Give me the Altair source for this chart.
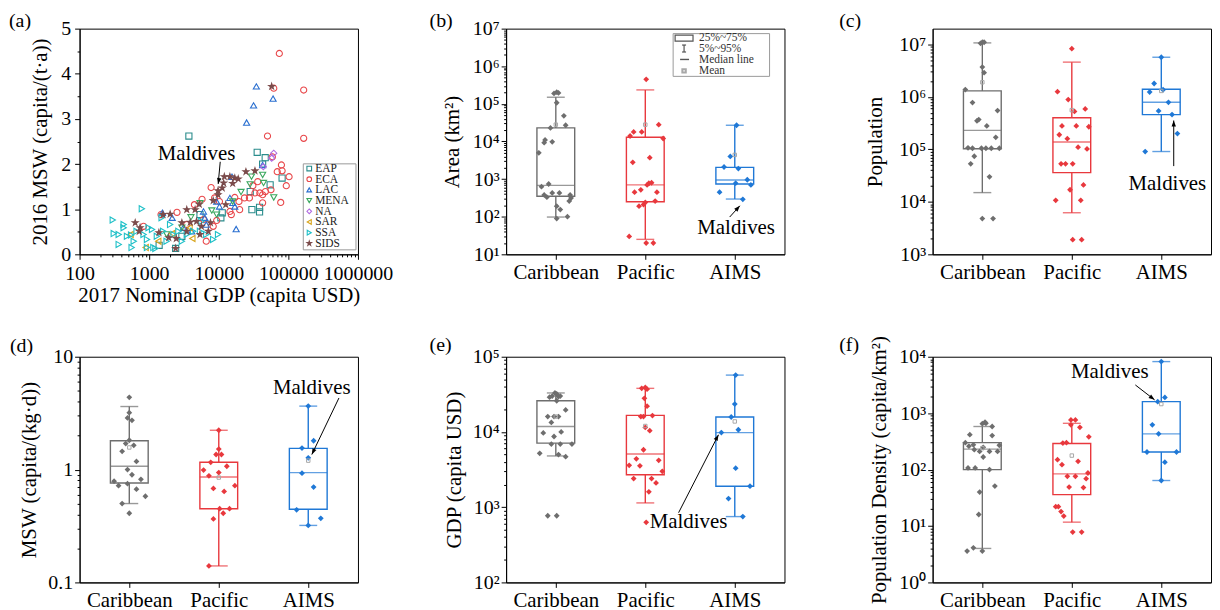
import altair as alt
import pandas as pd

FONT = "Liberation Serif"
W, H = 280, 227
CATS = ["Caribbean", "Pacific", "AIMS"]
CAT_POS = [1, 2, 3]
CAT_COLORS = ["#6e6e6e", "#e8383d", "#1f78d6"]
MEAN_COLOR = "#a8a8a8"
SUP = "⁰¹²³⁴⁵⁶⁷⁸⁹"
POW10 = "abs(log(datum.value)/LN10 - round(log(datum.value)/LN10)) < 0.000001"

# ---------------- panel (a) -----------------
REGIONS = ["EAP", "ECA", "LAC", "MENA", "NA", "SAR", "SSA", "SIDS"]
REGION_COLORS = ["#2a8c8c", "#e8474a", "#2a6fd0", "#3aa85e", "#b06ae0", "#d8a41a", "#1fc0c8", "#7b4b4b"]
STAR = "M0,-1L0.2245,-0.309L0.951,-0.309L0.363,0.118L0.588,0.809L0,0.382L-0.588,0.809L-0.363,0.118L-0.951,-0.309L-0.2245,-0.309Z"
REGION_SHAPES = ["square", "circle", "triangle-up", "triangle-down", "diamond", "triangle-left", "triangle-right", STAR]
REGION_FILLS = ["transparent"] * 7 + ["#7b4b4b"]

EAP_GDP = [3720, 35650, 46450, 42660, 54700, 81280, 28310, 29920, 38550, 38550, 11220, 2950, 1390, 2400, 10720, 5370]
EAP_MSW = [2.62, 2.26, 2.14, 2.00, 1.54, 1.69, 1.39, 0.99, 1.04, 0.94, 0.92, 0.40, 0.20, 0.13, 0.81, 0.88]
ECA_GDP = [74130, 61660, 165960, 165960, 50120, 58880, 79430, 81280, 102330, 69180, 93330, 56230, 42660, 46770,
           38900, 33110, 27540, 23440, 16980, 19500, 19950, 14450, 15140, 77620, 42660, 7760, 5750, 4470, 2510,
           1480, 830, 6610, 9330, 10230, 8710, 6030, 8320, 3470, 36310, 30900]
ECA_MSW = [4.45, 3.68, 3.64, 2.57, 2.62, 2.16, 1.98, 1.85, 1.72, 1.83, 1.52, 1.43, 1.32, 1.39,
           1.36, 1.36, 1.25, 1.25, 1.26, 1.17, 0.99, 0.95, 0.88, 1.15, 1.14, 1.48, 1.22, 1.10, 0.93,
           0.88, 0.62, 0.29, 0.75, 1.17, 1.25, 0.77, 0.62, 0.66, 1.61, 1.52]
LAC_GDP = [34670, 31620, 60260, 25120, 42660, 15490, 17780, 1550, 2140, 3090, 4070, 6030, 6310, 9330, 10230,
           14450, 15850, 16980, 6610]
LAC_MSW = [3.72, 3.30, 3.45, 2.92, 1.98, 1.72, 0.56, 0.92, 0.81, 0.59, 0.51, 0.95, 0.81, 1.17, 1.06,
           1.25, 1.14, 1.06, 0.66]
MENA_GDP = [3980, 7940, 15850, 20890, 29510, 28180, 42660, 44000, 61660, 2950, 9330, 1780, 5370]
MENA_MSW = [0.82, 0.97, 1.17, 1.38, 1.72, 1.55, 1.76, 1.58, 1.26, 0.59, 0.88, 0.44, 1.13]
NA_GDP = [61660, 57540, 43650]
NA_MSW = [2.24, 2.13, 1.94]
SAR_GDP = [540, 890, 2140, 4170, 3800, 1350]
SAR_MSW = [0.44, 0.15, 0.46, 0.35, 0.59, 0.29]
SSA_GDP = [300, 310, 365, 430, 430, 550, 600, 785, 660, 930, 1100, 1150, 1290, 1510, 1590, 1780, 2000, 2240,
           2950, 3470, 4270, 5620, 6610, 8320, 9770, 5370, 365, 480, 830, 980, 560, 2630, 930, 1230]
SSA_MSW = [0.76, 0.46, 0.22, 0.59, 0.66, 0.43, 0.29, 1.01, 0.51, 0.33, 0.55, 0.15, 0.40, 0.81, 0.51, 0.29, 0.66, 0.44,
           0.29, 0.44, 0.51, 0.73, 0.44, 0.33, 0.44, 0.51, 0.44, 0.40, 0.44, 0.59, 0.15, 0.51, 0.15, 0.13]
SIDS_GDP = [57540, 33110, 24550, 14450, 16980, 12020, 11750, 11220, 9770, 9770, 8320, 5250, 4570, 3470, 1580,
            2000, 2950, 3890, 4790, 630, 740, 720, 1380, 1910, 2450, 2400, 3470, 5370, 7080, 7590, 5620, 12590,
            15850, 19050]
SIDS_MSW = [3.72, 1.85, 1.83, 1.72, 1.69, 1.72, 1.58, 1.47, 1.41, 1.32, 1.19, 1.11, 0.99, 0.99, 0.88,
            0.89, 0.70, 0.71, 0.73, 0.70, 0.59, 0.51, 0.48, 0.37, 0.35, 0.13, 0.51, 0.44, 0.51, 0.70, 0.62, 1.10,
            1.57, 1.67]
A_SERIES = [(EAP_GDP, EAP_MSW), (ECA_GDP, ECA_MSW), (LAC_GDP, LAC_MSW), (MENA_GDP, MENA_MSW),
            (NA_GDP, NA_MSW), (SAR_GDP, SAR_MSW), (SSA_GDP, SSA_MSW), (SIDS_GDP, SIDS_MSW)]

# ---------------- panels (b)-(f): points (x position within category, value) ----------------
B_POS = [[0.98, 1.01, 1.03, 1.01, 1.09, 0.94, 1.11, 0.87, 0.88, 0.96, 0.81, 0.84, 0.92, 0.87, 0.90, 0.96, 1.04, 1.16, 1.17, 1.15, 1.01, 1.05, 1.01, 1.13],
         [2.01, 2.15, 1.87, 1.96, 1.83, 2.20, 2.05, 1.86, 2.04, 2.07, 2.02, 1.95, 1.88, 2.13, 2.00, 2.11, 1.93, 1.98, 1.82, 2.01, 2.09],
         [3.02, 2.95, 2.88, 3.04, 3.14, 3.01, 3.18, 2.83, 3.09]]
B_VAL = [[1.9e5, 2.05e5, 1.95e5, 1.07e5, 4.8e4, 2.3e4, 2.7e4, 9.3e3, 1.1e4, 9.8e3, 5.0e3, 630, 740, 380, 330, 430, 430, 380, 314, 260, 190, 155, 89, 100],
         [4.5e5, 2.8e4, 1.8e4, 1.8e4, 1.4e4, 1.2e4, 3.7e3, 2.8e3, 775, 800, 700, 520, 450, 450, 240, 260, 190, 210, 30, 20, 20],
         [2.7e4, 4.0e3, 2.1e3, 1.9e3, 960, 780, 700, 450, 290]]
C_POS = [[1.00, 1.02, 0.98, 1.00, 1.02, 0.81, 0.89, 1.17, 0.96, 0.94, 1.05, 1.15, 0.84, 0.89, 0.99, 1.04, 1.10, 1.19, 0.91, 0.87, 1.08, 1.00, 1.12],
         [2.00, 1.84, 1.96, 2.03, 2.15, 1.89, 2.05, 2.19, 1.86, 1.95, 2.07, 2.17, 1.88, 1.93, 2.01, 2.13, 1.98, 1.82, 2.10, 2.01, 2.11],
         [3.00, 2.92, 2.87, 3.02, 3.08, 2.97, 3.12, 3.18, 2.82]]
C_VAL = [[1.1e7, 1.1e7, 1.05e7, 3.7e6, 2.9e6, 1.38e6, 7.8e5, 5.5e5, 3.7e5, 3.5e5, 2.8e5, 1.7e5, 1.07e5, 1.05e5, 1.05e5, 1.05e5, 1.05e5, 1.05e5, 7.4e4, 5.3e4, 3.0e4, 4.8e3, 4.8e3],
         [8.3e6, 1.26e6, 8.9e5, 5.3e5, 5.9e5, 2.8e5, 2.8e5, 2.7e5, 1.9e5, 1.6e5, 1.1e5, 1.02e5, 5.3e4, 5.3e4, 5.3e4, 2.1e4, 1.7e4, 1.07e4, 1.07e4, 1.9e3, 1.9e3],
         [5.7e6, 1.8e6, 1.24e6, 1.37e6, 7.9e5, 5.4e5, 4.6e5, 2.0e5, 9.1e4]]
D_POS = [[1.00, 1.00, 0.98, 1.03, 1.00, 0.96, 1.05, 0.92, 1.08, 0.98, 1.03, 1.13, 0.83, 0.98, 0.88, 1.08, 1.18, 0.92, 1.00],
         [2.00, 2.00, 1.97, 2.03, 1.91, 2.09, 1.83, 2.00, 1.89, 2.18, 1.94, 2.06, 2.01, 2.12, 2.05, 1.94, 1.89],
         [3.00, 3.06, 2.93, 3.00, 2.93, 3.06, 2.87, 3.14, 3.00]]
D_VAL = [[4.37, 3.19, 2.87, 2.73, 1.82, 1.70, 1.64, 1.45, 1.18, 1.00, 0.90, 0.82, 0.79, 0.75, 0.72, 0.67, 0.58, 0.50, 0.41],
         [2.23, 1.52, 1.36, 1.36, 1.16, 1.07, 0.99, 0.94, 0.88, 0.72, 0.68, 0.64, 0.45, 0.45, 0.41, 0.365, 0.14],
         [3.65, 1.80, 1.55, 1.27, 0.93, 0.70, 0.44, 0.37, 0.32]]
E_POS = [[0.99, 1.01, 0.96, 1.05, 0.93, 1.03, 1.01, 1.11, 0.91, 0.98, 1.03, 0.95, 0.86, 1.06, 0.98, 0.95, 1.05, 1.18, 0.82, 1.03, 1.11, 0.91, 1.01],
         [2.00, 1.96, 2.02, 1.99, 2.02, 1.95, 1.98, 2.08, 2.00, 2.05, 1.98, 1.90, 2.15, 1.82, 1.94, 2.19, 1.87, 2.07, 2.12, 2.04, 2.01],
         [3.01, 3.00, 2.96, 3.04, 2.85, 3.01, 3.17, 2.93, 3.09]]
E_VAL = [[3.3e4, 3.2e4, 3.0e4, 3.0e4, 2.9e4, 2.95e4, 2.6e4, 1.96e4, 1.6e4, 1.6e4, 1.6e4, 1.34e4, 9.7e3, 1.0e4, 8.7e3, 6.9e3, 6.9e3, 6.9e3, 5.2e3, 5.0e3, 4.7e3, 770, 770],
         [3.9e4, 3.8e4, 3.7e4, 2.8e4, 2.2e4, 1.6e4, 1.6e4, 1.65e4, 1.15e4, 1.04e4, 5.8e3, 4.4e3, 4.2e3, 3.6e3, 3.55e3, 3.0e3, 2.4e3, 2.4e3, 2.1e3, 1.6e3, 630],
         [5.7e4, 2.35e4, 1.58e4, 1.07e4, 9.8e3, 3.3e3, 1.9e3, 1.3e3, 750]]
F_POS = [[1.03, 1.04, 1.00, 1.11, 0.86, 1.11, 0.81, 0.90, 1.19, 0.85, 1.01, 0.91, 1.08, 0.97, 1.17, 1.01, 0.84, 0.92, 1.08, 1.14, 0.97, 0.96, 0.90, 0.83, 1.00],
         [1.99, 2.04, 1.99, 2.09, 2.19, 1.94, 1.90, 1.84, 1.89, 2.07, 1.95, 2.04, 2.16, 2.18, 1.97, 2.13, 1.82, 1.85, 1.88, 1.91, 2.01, 2.11],
         [3.00, 3.04, 2.96, 2.90, 2.97, 2.84, 3.17, 3.04, 3.00]]
F_VAL = [[690, 660, 650, 580, 415, 400, 300, 275, 270, 260, 248, 225, 210, 210, 210, 167, 107, 107, 100, 51, 40, 16, 4.1, 3.6, 3.6],
         [760, 760, 620, 560, 380, 300, 295, 150, 122, 140, 76, 76, 69, 87, 49, 48, 22, 22, 18, 15, 7.8, 7.8],
         [8.2e3, 1.9e3, 1.6e3, 620, 430, 205, 205, 135, 64]]

# box statistics [Caribbean, Pacific, AIMS]: q1, median, q3, p5, p95, mean
B_STATS = dict(q1=[350, 250, 740], med=[680, 700, 950], q3=[2.3e4, 1.3e4, 2.05e3], lo=[98, 25, 295], hi=[1.5e5, 2.35e5, 2.7e4], mean=[2.8e4, 2.8e4, 4.4e3])
C_STATS = dict(q1=[1.03e5, 3.6e4, 4.6e5], med=[2.3e5, 1.38e5, 7.9e5], q3=[1.3e6, 4.0e5, 1.4e6], lo=[1.5e4, 6.2e3, 9.1e4], hi=[1.07e7, 4.6e6, 5.7e6], mean=[1.9e6, 5.6e5, 1.3e6])
D_STATS = dict(q1=[0.76, 0.45, 0.445], med=[1.07, 0.86, 0.94], q3=[1.80, 1.16, 1.54], lo=[0.50, 0.14, 0.32], hi=[3.62, 2.23, 3.65], mean=[1.57, 0.85, 1.2])
E_STATS = dict(q1=[7.1e3, 2.7e3, 1.9e3], med=[1.18e4, 5.1e3, 9.8e3], q3=[2.6e4, 1.66e4, 1.58e4], lo=[4.8e3, 1.14e3, 750], hi=[3.3e4, 3.8e4, 5.7e4], mean=[1.6e4, 1.2e4, 1.38e4])
F_STATS = dict(q1=[100, 36, 205], med=[230, 84, 430], q3=[300, 290, 1.6e3], lo=[4.0, 11.7, 64], hi=[580, 660, 8.2e3], mean=[240, 177, 1.45e3])

# "Maldives" annotations: (label x, label y, align), arrow (x1, y1, x2, y2, head angle)
A_NOTE = (4800, 2.23, "center"); A_ARROW = (10500, 2.05, 9800, 1.56, 190)
B_NOTE = (3.015, 50, "center"); B_ARROW = (2.943, 98, 3.057, 195, 42)
C_NOTE = (3.068, 22200, "center"); C_ARROW = (3.139, 48000, 3.139, 3.55e5, 0)
D_NOTE = (3.04, 5.28, "center"); D_ARROW = (3.343, 4.31, 3.04, 1.36, 206)
E_NOTE = (2.05, 635, "left"); E_ARROW = (2.372, 844, 2.818, 9180, 28)
F_NOTE = (2.425, 5430, "center"); F_ARROW = (2.71, 3160, 2.925, 1720, 127)
NOTE_TEXT = "Maldives"
LEGEND_B = ["25%~75%", "5%~95%", "Median line", "Mean"]
ARROWHEAD = "M0,0L-0.42,1.15L0.42,1.15Z"


def log_ticks(lo, hi):
    return [m * 10.0 ** e for e in range(lo, hi) for m in range(1, 10)] + [10.0 ** hi]


def tick_cond(test):
    return {"condition": {"test": test, "value": 5}, "value": 2.5}


def letter_layer(txt, dx, dy):
    return alt.Chart(pd.DataFrame({"t": [txt]})).mark_text(
        align="left", baseline="middle", fontSize=20, font=FONT, color="black"
    ).encode(x=alt.value(dx), y=alt.value(dy), text="t:N")


def annotation_layers(xenc, yenc, note, arrow):
    nx, ny, nal = note
    x1, y1, x2, y2, ang = arrow
    t = alt.Chart(pd.DataFrame({"x": [nx], "y": [ny], "t": [NOTE_TEXT]})).mark_text(
        align=nal, baseline="middle", fontSize=21, font=FONT, color="black"
    ).encode(x=xenc("x"), y=yenc("y"), text="t:N")
    r = alt.Chart(pd.DataFrame({"x1": [x1], "y1": [y1], "x2": [x2], "y2": [y2]})).mark_rule(
        color="black", strokeWidth=1
    ).encode(x=xenc("x1"), y=yenc("y1"), x2="x2:Q", y2="y2:Q")
    h = alt.Chart(pd.DataFrame({"x2": [x2], "y2": [y2]})).mark_point(
        shape=ARROWHEAD, filled=True, color="black", size=110, angle=ang, opacity=1
    ).encode(x=xenc("x2"), y=yenc("y2"))
    return [r, h, t]


# ---------- panel (a) chart ----------
rows = []
for reg, (gx, my) in zip(REGIONS, A_SERIES):
    for g, m in zip(gx, my):
        rows.append({"region": reg, "gdp": g, "msw": m})
dfa = pd.DataFrame(rows)

a_xaxis = alt.Axis(values=log_ticks(2, 6), labelExpr=f"({POW10}) ? format(datum.value, 'd') : ''",
                   tickSize=tick_cond(POW10), labelOverlap=False, labelFlush=False,
                   title="2017 Nominal GDP (capita USD)", labelPadding=4, titlePadding=1)
a_yaxis = alt.Axis(values=[i / 2 for i in range(11)], labelExpr="datum.value % 1 == 0 ? format(datum.value, 'd') : ''",
                   tickSize=tick_cond("datum.value % 1 == 0"), labelOverlap=False,
                   title="2016 MSW (capita/(t·a))", titleX=-39, titleY=H / 2, titleAngle=270,
                   titleBaseline="middle", titleAlign="center", labelPadding=4)


def a_x(f):
    return alt.X(f"{f}:Q", scale=alt.Scale(type="log", domain=[100, 1e6], nice=False), axis=a_xaxis)


def a_y(f):
    return alt.Y(f"{f}:Q", scale=alt.Scale(domain=[0, 5], nice=False, zero=False), axis=a_yaxis)


reg_stroke = alt.Stroke("region:N", scale=alt.Scale(domain=REGIONS, range=REGION_COLORS), legend=None)
reg_shape = alt.Shape("region:N", scale=alt.Scale(domain=REGIONS, range=REGION_SHAPES), legend=None)
reg_fill = alt.Fill("region:N", scale=alt.Scale(domain=REGIONS, range=REGION_FILLS), legend=None)
pts_a = alt.Chart(dfa).mark_point(size=38, strokeWidth=1.1, opacity=1).encode(
    x=a_x("gdp"), y=a_y("msw"), stroke=reg_stroke, shape=reg_shape, fill=reg_fill)

# hand-built legend box inside panel (a)
legend_a = [alt.Chart(pd.DataFrame({"t": [""]})).mark_rect(fill="white", stroke="#999999", strokeWidth=1).encode(
    x=alt.value(225), x2=alt.value(278), y=alt.value(136), y2=alt.value(222.5))]
for i, (reg, colr, shp, fil) in enumerate(zip(REGIONS, REGION_COLORS, REGION_SHAPES, REGION_FILLS)):
    yy = 140.7 + i * 10.75
    legend_a.append(alt.Chart(pd.DataFrame({"t": [reg]})).mark_point(
        shape=shp, size=22, stroke=colr, fill=fil, strokeWidth=1.1, opacity=1
    ).encode(x=alt.value(231), y=alt.value(yy)))
    legend_a.append(alt.Chart(pd.DataFrame({"t": [reg]})).mark_text(
        align="left", baseline="middle", fontSize=11.5, font=FONT, color="#222222"
    ).encode(x=alt.value(237), y=alt.value(yy + 0.5), text="t:N"))

panel_a = alt.layer(pts_a, *legend_a, *annotation_layers(a_x, a_y, A_NOTE, A_ARROW),
                    letter_layer("(a)", -71, -8)).properties(width=W, height=H)

# ---------- box panels ----------
CAT_EXPR = " : ".join(f"datum.value == {p} ? '{c}'" for p, c in zip(CAT_POS[:-1], CATS[:-1])) + f" : '{CATS[-1]}'"
SUP_EXPR = (f"({POW10}) ? '10' + substring('{SUP}', round(log(datum.value)/LN10), "
            f"round(log(datum.value)/LN10) + 1) : ''")
PLAIN_EXPR = f"({POW10}) ? format(datum.value, '~g') : ''"


def box_panel(P, V, S, domain, ticks, ytitle, label_expr, letter, lx, ly, title_x, note, arrow, legend=False):
    pts = pd.DataFrame([{"cat": c, "pos": p, "v": v} for c, PP, VV in zip(CATS, P, V) for p, v in zip(PP, VV)])
    st = pd.DataFrame({"cat": CATS, "pos": CAT_POS, **S})
    xaxis = alt.Axis(values=CAT_POS, labelExpr=CAT_EXPR, title=None, tickSize=5, labelPadding=2,
                     labelFontSize=21)
    yaxis = alt.Axis(values=ticks, labelExpr=label_expr, tickSize=tick_cond(POW10), labelOverlap=False,
                     title=ytitle, titleX=title_x, titleY=H / 2, titleAngle=270, titleBaseline="middle",
                     titleAlign="center", labelPadding=2)

    def xe(f):
        return alt.X(f"{f}:Q", scale=alt.Scale(domain=[0.5, 3.5], nice=False, zero=False), axis=xaxis)

    def ye(f):
        return alt.Y(f"{f}:Q", scale=alt.Scale(type="log", domain=domain, nice=False), axis=yaxis)

    col = alt.Color("cat:N", scale=alt.Scale(domain=CATS, range=CAT_COLORS), legend=None)
    base = alt.Chart(st)
    w1 = base.mark_rule(strokeWidth=1.4).encode(x=xe("pos"), y=ye("lo"), y2="q1:Q", color=col)
    w2 = base.mark_rule(strokeWidth=1.4).encode(x=xe("pos"), y=ye("q3"), y2="hi:Q", color=col)
    c1 = base.mark_tick(orient="horizontal", size=18, thickness=1.4).encode(x=xe("pos"), y=ye("lo"), color=col)
    c2 = base.mark_tick(orient="horizontal", size=18, thickness=1.4).encode(x=xe("pos"), y=ye("hi"), color=col)
    box = base.mark_bar(filled=False, size=38, strokeWidth=1.4).encode(x=xe("pos"), y=ye("q1"), y2="q3:Q", color=col)
    med = base.mark_tick(orient="horizontal", size=38, thickness=1.4).encode(x=xe("pos"), y=ye("med"), color=col)
    dots = alt.Chart(pts).mark_point(shape="diamond", filled=True, size=34, opacity=1).encode(
        x=xe("pos"), y=ye("v"), color=col)
    mean = base.mark_point(shape="square", filled=False, size=12, color=MEAN_COLOR, strokeWidth=1, opacity=1).encode(
        x=xe("pos"), y=ye("mean"))
    layers = [w1, w2, c1, c2, box, med, dots, mean] + annotation_layers(xe, ye, note, arrow)
    layers.append(letter_layer(letter, lx, ly))
    if legend:
        one = pd.DataFrame({"t": [""]})
        layers.append(alt.Chart(one).mark_rect(fill="white", stroke="#999999", strokeWidth=1).encode(
            x=alt.value(168), x2=alt.value(265), y=alt.value(5), y2=alt.value(48)))
        layers.append(alt.Chart(one).mark_rect(fill="white", stroke="#555555", strokeWidth=1.2).encode(
            x=alt.value(170), x2=alt.value(188), y=alt.value(6.5), y2=alt.value(12.5)))
        layers.append(alt.Chart(one).mark_rule(color="#555555", strokeWidth=1.2).encode(
            x=alt.value(179), y=alt.value(16.5), y2=alt.value(23.5)))
        layers.append(alt.Chart(one).mark_rule(color="#555555", strokeWidth=1.2).encode(
            x=alt.value(177), x2=alt.value(181), y=alt.value(16.5)))
        layers.append(alt.Chart(one).mark_rule(color="#555555", strokeWidth=1.2).encode(
            x=alt.value(177), x2=alt.value(181), y=alt.value(23.5)))
        layers.append(alt.Chart(one).mark_rule(color="#555555", strokeWidth=1.4).encode(
            x=alt.value(175), x2=alt.value(184), y=alt.value(31)))
        layers.append(alt.Chart(one).mark_point(shape="square", filled=False, size=12, color=MEAN_COLOR,
                                                 opacity=1).encode(x=alt.value(179), y=alt.value(42.5)))
        for lab, yy in zip(LEGEND_B, [9.5, 20.5, 31.5, 42.5]):
            layers.append(alt.Chart(pd.DataFrame({"t": [lab]})).mark_text(
                align="left", baseline="middle", fontSize=11.5, font=FONT, color="#333333"
            ).encode(x=alt.value(194), y=alt.value(yy), text="t:N"))
    return alt.layer(*layers).properties(width=W, height=H)


panel_b = box_panel(B_POS, B_VAL, B_STATS, [10, 1e7], log_ticks(1, 7), "Area (km²)", SUP_EXPR,
                    "(b)", -77, -8, -54, B_NOTE, B_ARROW, legend=True)
panel_c = box_panel(C_POS, C_VAL, C_STATS, [1e3, 2e7], log_ticks(3, 7), "Population", SUP_EXPR,
                    "(c)", -94, -8, -57, C_NOTE, C_ARROW)
panel_d = box_panel(D_POS, D_VAL, D_STATS, [0.1, 10], log_ticks(-1, 1), "MSW (capita/(kg·d))", PLAIN_EXPR,
                    "(d)", -70, -11, -50, D_NOTE, D_ARROW)
panel_e = box_panel(E_POS, E_VAL, E_STATS, [100, 1e5], log_ticks(2, 5), "GDP (capita USD)", SUP_EXPR,
                    "(e)", -77, -12, -52, E_NOTE, E_ARROW)
panel_f = box_panel(F_POS, F_VAL, F_STATS, [1, 1e4], log_ticks(0, 4), "Population Density (capita/km²)", SUP_EXPR,
                    "(f)", -94, -12, -53, F_NOTE, F_ARROW)

chart = alt.concat(panel_a, panel_b, panel_c, panel_d, panel_e, panel_f, columns=3,
                   spacing={"row": 103, "column": 149}, bounds="flush").properties(
    padding=0
).configure_axis(
    labelFont=FONT, titleFont=FONT, labelFontSize=20, titleFontSize=21, titleFontWeight="normal",
    labelColor="black", titleColor="black", domainColor="black", tickColor="black", grid=False,
    domainWidth=1, tickWidth=1
).configure_view(stroke="black", strokeWidth=1).configure_text(font=FONT)

chart.save("out.html", embed_options={"renderer": "svg", "actions": False})
